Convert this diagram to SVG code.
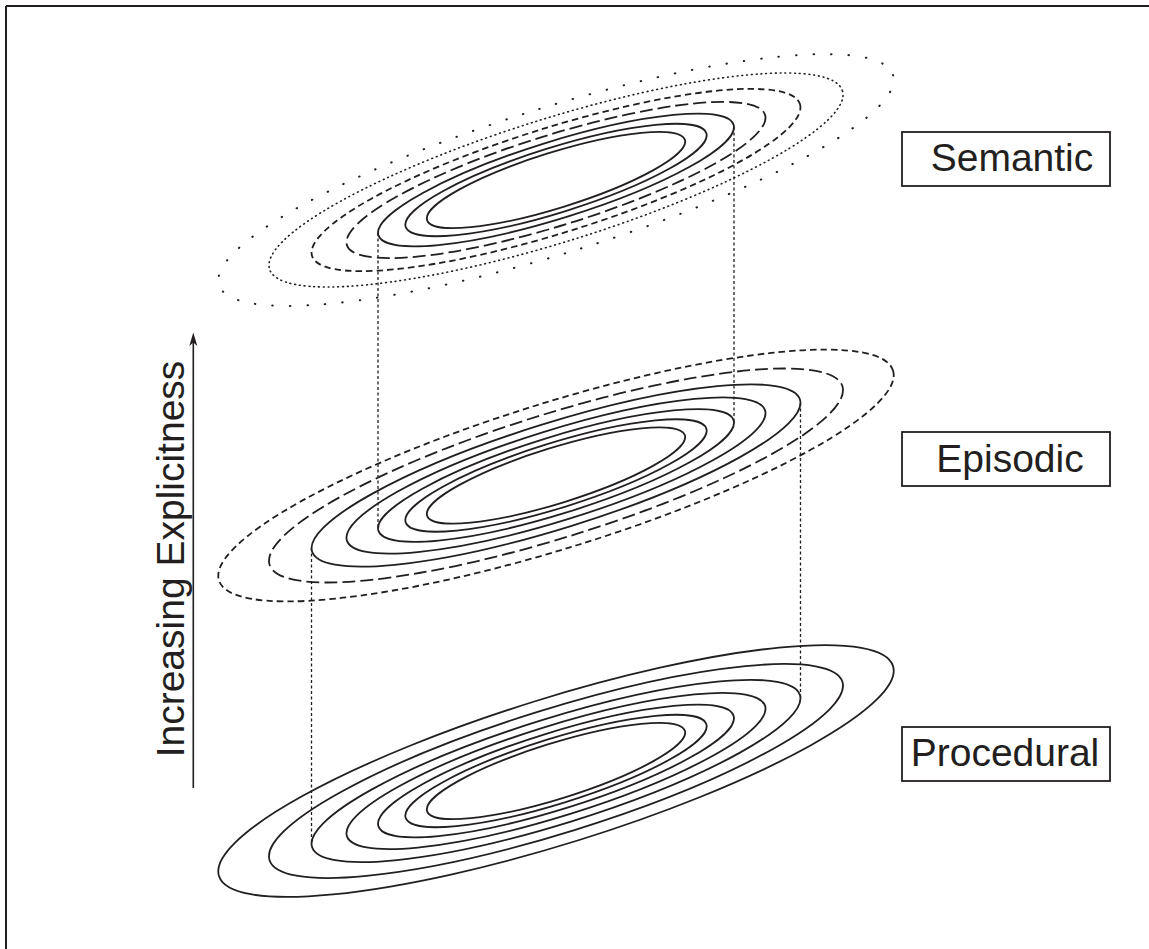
<svg xmlns="http://www.w3.org/2000/svg" width="1149" height="949" viewBox="0 0 1149 949">
<style>
.e{fill:none;stroke:#231f20;stroke-width:1.8}
.md{stroke-dasharray:6.5 4}
.ld{stroke-dasharray:13 5}
.sp{stroke-width:2;stroke-dasharray:0.5 17;stroke-linecap:round}
.dd{stroke-width:1.6;stroke-dasharray:0.8 4;stroke-linecap:round}
.v{fill:none;stroke:#231f20;stroke-width:1.3;stroke-dasharray:3 2.5}
.box{fill:#fff;stroke:#231f20;stroke-width:1.8}
.lbl{font-family:"Liberation Sans",Arial,Helvetica,sans-serif;font-size:39px;fill:#231f20;text-anchor:middle}
</style>
<rect width="1149" height="949" fill="#fff"/>
<g id="frame" fill="none" stroke="#231f20" stroke-width="2">
<line x1="6" y1="6" x2="1149" y2="6"/>
<line x1="6" y1="6" x2="6" y2="949"/>
</g>
<g id="connectors">
<line class="v" x1="378" y1="233" x2="378" y2="528"/>
<line class="v" x1="734" y1="127" x2="734" y2="422"/>
<line class="v" x1="311.5" y1="548" x2="311.5" y2="843.5"/>
<line class="v" x1="800.5" y1="403" x2="800.5" y2="698.5"/>
</g>
<g id="procedural-layer" transform="rotate(-17.3 556 771)">
<ellipse class="e" cx="556" cy="771" rx="353" ry="72.8"/>
<ellipse class="e" cx="556" cy="771" rx="300" ry="61.9"/>
<ellipse class="e" cx="556" cy="771" rx="255.5" ry="52.7"/>
<ellipse class="e" cx="556" cy="771" rx="219" ry="45.2"/>
<ellipse class="e" cx="556" cy="771" rx="186" ry="38.4"/>
<ellipse class="e" cx="556" cy="771" rx="157.5" ry="32.5"/>
<ellipse class="e" cx="556" cy="771" rx="135" ry="27.8"/>
</g>
<g id="episodic-layer" transform="rotate(-17.3 556 475.5)">
<ellipse class="e md" cx="556" cy="475.5" rx="353" ry="72.8"/>
<ellipse class="e ld" cx="556" cy="475.5" rx="300" ry="61.9"/>
<ellipse class="e" cx="556" cy="475.5" rx="255.5" ry="52.7"/>
<ellipse class="e" cx="556" cy="475.5" rx="219" ry="45.2"/>
<ellipse class="e" cx="556" cy="475.5" rx="186" ry="38.4"/>
<ellipse class="e" cx="556" cy="475.5" rx="157.5" ry="32.5"/>
<ellipse class="e" cx="556" cy="475.5" rx="135" ry="27.8"/>
</g>
<g id="semantic-layer" transform="rotate(-17.3 556 180)">
<ellipse class="e sp" cx="556" cy="180" rx="353" ry="72.8"/>
<ellipse class="e dd" cx="556" cy="180" rx="300" ry="61.9"/>
<ellipse class="e md" cx="556" cy="180" rx="255.5" ry="52.7"/>
<ellipse class="e ld" cx="556" cy="180" rx="219" ry="45.2"/>
<ellipse class="e" cx="556" cy="180" rx="186" ry="38.4"/>
<ellipse class="e" cx="556" cy="180" rx="157.5" ry="32.5"/>
<ellipse class="e" cx="556" cy="180" rx="135" ry="27.8"/>
</g>
<g id="semantic-label">
<rect class="box" x="902" y="132" width="208" height="54"/>
<text class="lbl" x="1012" y="171">Semantic</text>
</g>
<g id="episodic-label">
<rect class="box" x="902" y="432" width="208" height="54"/>
<text class="lbl" x="1010" y="471.5">Episodic</text>
</g>
<g id="procedural-label">
<rect class="box" x="902" y="727" width="208" height="54"/>
<text class="lbl" x="1005" y="766">Procedural</text>
</g>
<g id="axis">
<line x1="193.3" y1="340" x2="193.3" y2="788" stroke="#231f20" stroke-width="1.6"/>
<path d="M193.3,332.5 L189.3,346 L193.3,342.5 L197.3,346 Z" fill="#231f20"/>
<text class="lbl" transform="translate(184,559) rotate(-90)" x="0" y="0">Increasing Explicitness</text>
</g>
</svg>
